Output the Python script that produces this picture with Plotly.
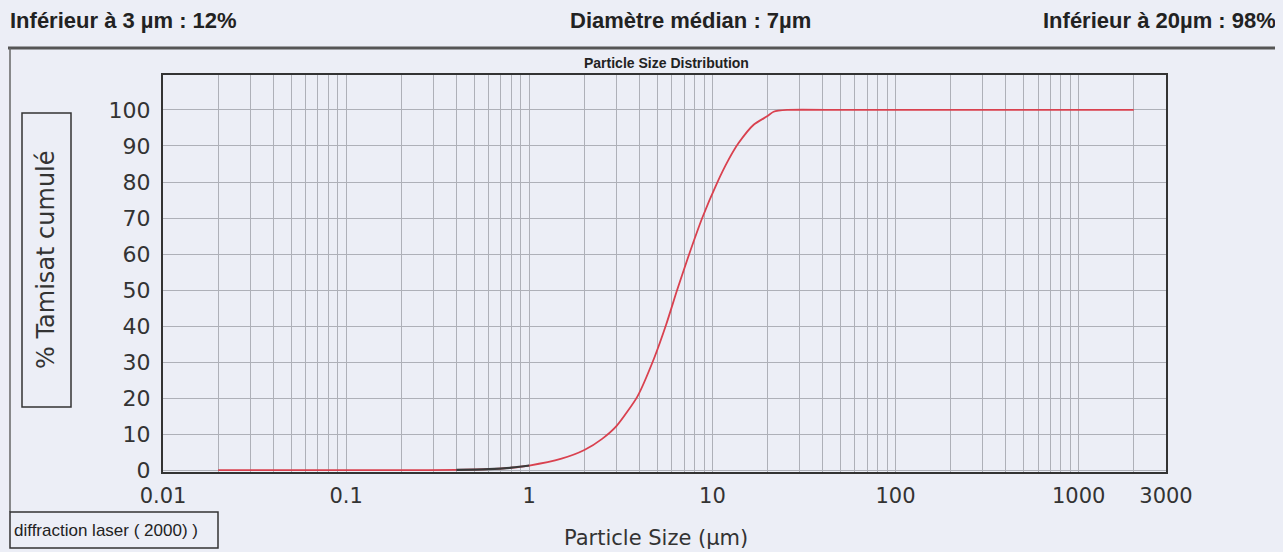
import plotly.graph_objects as go

# cumulative passing curve
size_um = [0.02, 0.05, 0.1, 0.2, 0.4, 0.6, 0.8, 1.0, 1.5, 2.0, 2.5, 3.0, 3.9,
           4.8, 5.6, 6.4, 7.3, 8.8, 10.6, 12.2, 13.9, 16.8, 20.0, 21.6, 25.6,
           50, 100, 500, 1000, 2000]
tamisat = [0, 0, 0, 0, 0.1, 0.3, 0.7, 1.3, 3.2, 5.6, 8.7, 12.3, 20.5,
           31.0, 40.5, 49.8, 58.5, 70.0, 79.7, 86.0, 90.8, 95.9, 98.3, 99.5, 100,
           100, 100, 100, 100, 100]

x_ticks = [0.01, 0.1, 1, 10, 100, 1000, 3000]
x_labels = ["0.01", "0.1", "1", "10", "100", "1000", "3000"]
y_ticks = [0, 10, 20, 30, 40, 50, 60, 70, 80, 90, 100]

header_left = "Inférieur à 3 µm : 12%"
header_mid = "Diamètre médian : 7µm"
header_right = "Inférieur à 20µm : 98%"

W, H = 1283, 552
OFF = 8  # default page body margin
L, R, T, B = 163, 117, 75, 80
BG = "#eceef6"
GRID = "#aeb0b8"
BOLD = "Liberation Sans, Arial, sans-serif"
TXT = "DejaVu Sans, Verdana, sans-serif"


def px(x):
    return (x - L) / (W - L - R)


def py(y):
    return (H - B - y) / (H - T - B)


minor_grid = [m * 10 ** d for d in range(-2, 4) for m in range(2, 10) if m * 10 ** d < 3000]

fig = go.Figure()
fig.add_trace(go.Scatter(x=size_um, y=tamisat, mode="lines",
                         line=dict(color="#d9414f", width=1.8, shape="spline", smoothing=0.6),
                         showlegend=False))
# darker baseline piece under 1 µm
dark = [(s, t) for s, t in zip(size_um, tamisat) if 0.4 <= s <= 1.0]
fig.add_trace(go.Scatter(x=[d[0] for d in dark], y=[d[1] for d in dark], mode="lines",
                         line=dict(color="#3a3a3a", width=2.2, shape="spline"), showlegend=False))

fig.update_layout(
    width=W - OFF, height=H - OFF,
    margin=dict(l=L - OFF, r=R, t=T - OFF, b=B),
    paper_bgcolor=BG, plot_bgcolor=BG,
    xaxis=dict(type="log", range=[-2, 3.4771], tickvals=x_ticks, ticktext=x_labels,
               showgrid=True, gridcolor=GRID, gridwidth=1, layer="below traces",
               minor=dict(tickvals=minor_grid, showgrid=True, gridcolor=GRID, gridwidth=1, ticks=""),
               showline=True, linecolor="#333", linewidth=2, mirror=True,
               ticks="", ticklabelstandoff=4, zeroline=False, automargin=False,
               tickfont=dict(family=TXT, size=21, color="#333")),
    yaxis=dict(range=[-0.5, 109.7], tickvals=y_ticks,
               showgrid=True, gridcolor=GRID, gridwidth=1, layer="below traces",
               showline=True, linecolor="#333", linewidth=2, mirror=True,
               ticks="", ticklabelstandoff=6, zeroline=False, automargin=False,
               tickfont=dict(family=TXT, size=22, color="#333")),
    shapes=[
        dict(type="line", xref="paper", yref="paper", x0=px(8), x1=px(1283), y0=py(48), y1=py(48),
             line=dict(color="#555", width=3)),
        dict(type="line", xref="paper", yref="paper", x0=px(10), x1=px(10), y0=py(48), y1=py(512),
             line=dict(color="#666", width=1.5)),
        dict(type="rect", xref="paper", yref="paper", x0=px(22), x1=px(71), y0=py(407), y1=py(113),
             line=dict(color="#333", width=1.5)),
        dict(type="rect", xref="paper", yref="paper", x0=px(10), x1=px(218), y0=py(548), y1=py(512),
             line=dict(color="#333", width=1.5)),
    ],
    annotations=[
        dict(text=header_left, xref="paper", yref="paper", x=px(8), y=py(21), xanchor="left",
             yanchor="middle", showarrow=False, font=dict(family=BOLD, size=22, color="#222", weight="bold")),
        dict(text=header_mid, xref="paper", yref="paper", x=px(690), y=py(21), xanchor="center",
             yanchor="middle", showarrow=False, font=dict(family=BOLD, size=22, color="#222", weight="bold")),
        dict(text=header_right, xref="paper", yref="paper", x=px(1278), y=py(21), xanchor="right",
             yanchor="middle", showarrow=False, font=dict(family=BOLD, size=22, color="#222", weight="bold")),
        dict(text="Particle Size Distribution", xref="paper", yref="paper", x=px(666), y=py(63),
             xanchor="center", yanchor="middle", showarrow=False,
             font=dict(family=BOLD, size=14, color="#222", weight="bold")),
        dict(text="Particle Size (µm)", xref="paper", yref="paper", x=px(656), y=py(538),
             xanchor="center", yanchor="middle", showarrow=False,
             font=dict(family=TXT, size=21, color="#333")),
        dict(text="% Tamisat cumulé", xref="paper", yref="paper", x=px(46), y=py(260),
             xanchor="center", yanchor="middle", textangle=-90, showarrow=False,
             font=dict(family=TXT, size=24, color="#333")),
        dict(text="diffraction laser ( 2000) )", xref="paper", yref="paper", x=px(12), y=py(530),
             xanchor="left", yanchor="middle", showarrow=False,
             font=dict(family=BOLD, size=17, color="#222")),
    ],
)

# page colour behind the default body margin
fig.write_html("out.html", config={"displayModeBar": False},
               post_script="document.body.style.background='#eceef6';")
